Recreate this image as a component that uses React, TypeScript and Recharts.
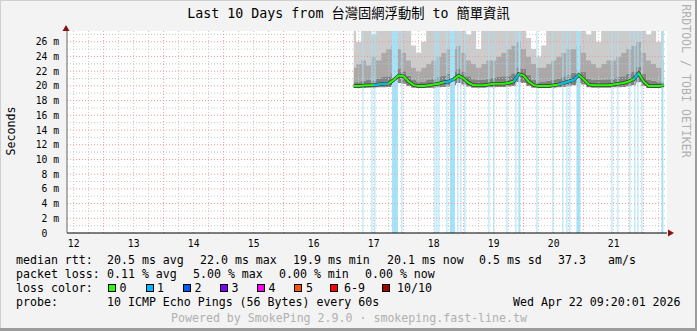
import React from 'react';
import {
  ComposedChart,
  Area,
  Line,
  XAxis,
  YAxis,
  ReferenceLine,
  ReferenceArea,
  CartesianGrid,
} from 'recharts';

// time in hours since Apr 12 00:00; window is Apr 12 09:20 .. Apr 22 09:20
const X0 = 9.3333;
const X1 = 249.3333;
const YMAX = 27.46;

const times = [
  124, 126, 128, 130, 132, 134, 136, 138, 140, 142, 144, 146, 148, 150, 152, 154,
  156, 158, 160, 162, 164, 166, 168, 170, 172, 174, 176, 178, 180, 182, 184, 186,
  188, 190, 192, 194, 196, 198, 200, 202, 204, 206, 208, 210, 212, 214, 216, 218,
  220, 222, 224, 226, 228, 230, 232, 234, 236, 238, 240, 242, 244, 246, 248,
];

// median rtt in ms
const median = [
  20.0, 20.0, 20.05, 20.1, 20.1, 20.2, 20.3, 20.3, 20.8, 21.4, 21.3, 20.6, 20.1, 20.0, 20.0, 20.1,
  20.2, 20.3, 20.5, 20.6, 20.9, 21.4, 21.0, 20.4, 20.1, 20.1, 20.1, 20.2, 20.3, 20.3, 20.3, 20.4,
  20.6, 21.6, 21.4, 20.6, 20.1, 20.0, 20.0, 20.0, 20.1, 20.2, 20.4, 20.6, 20.8, 21.5, 20.9, 20.2,
  20.1, 20.1, 20.1, 20.1, 20.2, 20.3, 20.4, 20.6, 20.9, 21.7, 20.6, 20.0, 20.0, 20.0, 20.1,
];

// lost pings per sample (median line colour)
const medianLoss = [
  0, 0, 0, 0, 0, 1, 1, 1, 0, 0, 0, 0, 0, 0, 0, 0,
  0, 0, 0, 1, 1, 0, 0, 0, 0, 0, 0, 0, 0, 0, 0, 0,
  0, 1, 0, 0, 0, 0, 0, 0, 0, 0, 1, 1, 0, 1, 0, 0,
  0, 0, 0, 0, 0, 0, 0, 0, 0, 1, 0, 0, 0, 0, 0,
];

// smoke levels (ms)
const smokeMin = [
  19.7, 19.7, 19.7, 19.75, 19.75, 19.8, 19.8, 19.85, 20.0, 20.4, 20.3, 20.0, 19.75, 19.7, 19.7, 19.7,
  19.75, 19.8, 19.85, 19.9, 20.1, 20.4, 20.2, 19.9, 19.75, 19.75, 19.75, 19.8, 19.8, 19.85, 19.85, 19.9,
  20.0, 20.5, 20.4, 20.0, 19.75, 19.7, 19.7, 19.7, 19.75, 19.8, 19.85, 19.95, 20.1, 20.4, 20.2, 19.8,
  19.75, 19.75, 19.75, 19.75, 19.8, 19.8, 19.85, 19.95, 20.1, 20.5, 20.0, 19.7, 19.7, 19.7, 19.7,
];
const smokeP60 = [
  20.5, 20.6, 20.7, 20.8, 20.7, 21.0, 21.2, 21.3, 21.8, 22.3, 22.0, 21.4, 20.8, 20.6, 20.6, 20.8,
  21.0, 21.2, 21.4, 21.6, 21.9, 22.3, 22.0, 21.3, 20.9, 20.8, 20.8, 21.0, 21.1, 21.2, 21.3, 21.4,
  21.7, 22.5, 22.3, 21.5, 20.8, 20.6, 20.6, 20.7, 20.8, 21.0, 21.2, 21.5, 21.8, 22.4, 21.9, 21.0,
  20.8, 20.8, 20.8, 20.9, 21.0, 21.2, 21.3, 21.6, 21.9, 22.6, 21.6, 20.8, 20.7, 20.6, 20.7,
];
const smokeP80 = [
  22.5, 23.0, 23.5, 22.8, 24.0, 23.5, 24.5, 25.0, 25.5, 25.0, 24.5, 23.5, 22.5, 22.0, 22.5, 23.0,
  23.5, 24.0, 24.5, 25.0, 25.0, 25.5, 24.5, 23.5, 23.0, 22.5, 23.0, 23.5, 23.5, 24.0, 24.5, 25.0,
  25.5, 26.0, 25.0, 24.0, 23.0, 22.5, 22.5, 23.0, 23.5, 24.0, 24.5, 25.0, 25.0, 25.5, 24.5, 23.5,
  23.0, 22.5, 23.0, 23.5, 23.5, 24.0, 24.5, 25.0, 25.5, 26.0, 24.5, 23.5, 23.0, 22.5, 23.5,
];
const smokeMax = [
  28, 26, 28, 28, 27, 28, 28, 28, 28, 28, 28, 28, 25.5, 24.5, 26, 28,
  28, 28, 28, 28, 28, 28, 28, 27, 28, 25, 28, 28, 28, 28, 28, 28,
  28, 28, 28, 26.5, 25, 24, 25.5, 28, 28, 28, 28, 28, 28, 28, 28, 27,
  28, 26, 28, 28, 28, 28, 28, 28, 28, 28, 28, 27, 28, 26, 28,
];

// samples with packet loss (start, end hours)
const lossStripes: [number, number][] = [
  [127.5, 127.9], [131.1, 131.5], [132.3, 132.7], [139.3, 141.7], [143.1, 143.5],
  [156.3, 156.7], [157.1, 157.5], [157.9, 158.3], [161.1, 161.5], [162.5, 164.5],
  [165.5, 165.9], [166.7, 167.1], [168.3, 168.7], [177.9, 178.3], [179.9, 180.3],
  [185.1, 185.5], [188.7, 189.1], [189.9, 190.7], [197.1, 197.5], [203.5, 203.9],
  [207.5, 207.9], [209.1, 209.5], [210.3, 210.7], [213.1, 214.7], [227.1, 227.5],
  [229.5, 229.9], [234.3, 234.7], [236.3, 236.7], [237.5, 237.9], [239.1, 239.5],
  [247.1, 247.9],
];

const xTickHours = [12, 36, 60, 84, 108, 132, 156, 180, 204, 228];
const xTickLabels = ['12', '13', '14', '15', '16', '17', '18', '19', '20', '21'];
const yTicks = [0, 2, 4, 6, 8, 10, 12, 14, 16, 18, 20, 22, 24, 26];
const yMinorGrid = [1, 3, 5, 7, 9, 11, 13, 15, 17, 19, 21, 23, 25, 27];
const xMajorGrid = [24, 48, 72, 96, 120, 144, 168, 192, 216, 240];
const xMinorGrid = [
  12, 18, 30, 36, 42, 54, 60, 66, 78, 84, 90, 102, 108, 114, 126, 132, 138, 150, 156,
  162, 174, 180, 186, 198, 204, 210, 222, 228, 234, 246,
];

const lossLegend = [
  { label: '0', color: '#26ff00' },
  { label: '1', color: '#00b8ff' },
  { label: '2', color: '#0059ff' },
  { label: '3', color: '#7e00ff' },
  { label: '4', color: '#ff00ff' },
  { label: '5', color: '#ff5500' },
  { label: '6-9', color: '#ff0000' },
  { label: '10/10', color: '#a10000' },
];

const rows = times.map((t, i) => ({
  t,
  median: median[i],
  blue: medianLoss[i] || medianLoss[i + 1] ? median[i] : null,
  lower: [smokeMin[i], smokeP60[i]],
  mid: [smokeP60[i], smokeP80[i]],
  upper: [smokeP80[i], smokeMax[i]],
}));

const FONT = "'DejaVu Sans Mono', 'Noto Sans CJK TC', monospace";

const XTick = (props: any) => {
  const { x, y, payload } = props;
  const idx = xTickHours.indexOf(payload.value);
  return (
    <text x={x} y={y} dy={12} textAnchor="middle" fontFamily={FONT} fontSize={9.7} fill="#000">
      {idx >= 0 ? xTickLabels[idx] : ''}
    </text>
  );
};

const YTick = (props: any) => {
  const { x, y, payload } = props;
  const v = payload.value;
  return (
    <text
      x={v === 0 ? x - 11.7 : x}
      y={y}
      dy={3.5}
      textAnchor="end"
      fontFamily={FONT}
      fontSize={9.7}
      fill="#000"
    >
      {v === 0 ? '0' : `${v} m`}
    </text>
  );
};

const txt = (left: number, cy: number, s: string, color = '#000', size = 11.6) => (
  <div
    style={{
      position: 'absolute',
      left,
      top: cy - 7,
      height: 14,
      lineHeight: '14px',
      fontFamily: FONT,
      fontSize: size,
      color,
      whiteSpace: 'pre',
    }}
  >
    {s}
  </div>
);

const boxXs = [108, 145.5, 182.5, 219.5, 256.5, 293.5, 330, 382];
const labelXs = [119.5, 157, 194.5, 231.5, 268.5, 306, 344, 397];

export default function App() {
  return (
    <div
      style={{
        position: 'absolute',
        left: 0,
        top: 0,
        width: 697,
        height: 331,
        background: '#f3f3f3',
        overflow: 'hidden',
      }}
    >
      <div style={{ position: 'absolute', left: 0, top: 0 }}>
        <ComposedChart
          width={697}
          height={331}
          data={rows}
          margin={{ top: 31, right: 30, bottom: 78, left: 7 }}
        >
          <CartesianGrid fill="#ffffff" horizontal={false} vertical={false} stroke="none" />
          <XAxis
            dataKey="t"
            type="number"
            domain={[X0, X1]}
            allowDataOverflow
            ticks={xTickHours}
            interval={0}
            tick={<XTick />}
            tickSize={0}
            tickLine={false}
            height={20}
            axisLine={{ stroke: '#000', strokeWidth: 1 }}
          />
          <YAxis
            type="number"
            domain={[0, YMAX]}
            allowDataOverflow
            ticks={yTicks}
            interval={0}
            tick={<YTick />}
            tickSize={0}
            tickMargin={8}
            tickLine={false}
            width={60}
            axisLine={{ stroke: '#666', strokeWidth: 1 }}
          />
          <Area dataKey="upper" type="step" fill="#cccccc" fillOpacity={1} stroke="none" isAnimationActive={false} />
          <Area dataKey="mid" type="step" fill="#a9a9a9" fillOpacity={1} stroke="none" isAnimationActive={false} />
          <Area dataKey="lower" type="step" fill="#828282" fillOpacity={1} stroke="none" isAnimationActive={false} />
          {lossStripes.map(([s, e], i) => (
            <ReferenceArea key={`ls${i}`} x1={s} x2={e} fill="#a4e2fa" fillOpacity={1} stroke="none" />
          ))}
          {yMinorGrid.map((v) => (
            <ReferenceLine key={`ym${v}`} y={v} stroke="#c8c8c8" strokeDasharray="1 2" />
          ))}
          {xMinorGrid.map((v) => (
            <ReferenceLine key={`xm${v}`} x={v} stroke="#c8c8c8" strokeDasharray="1 2" />
          ))}
          {yTicks.filter((v) => v > 0).map((v) => (
            <ReferenceLine key={`yM${v}`} y={v} stroke="#f09a9a" strokeDasharray="1 2" />
          ))}
          {xMajorGrid.map((v) => (
            <ReferenceLine key={`xM${v}`} x={v} stroke="#f09a9a" strokeDasharray="1 2" />
          ))}
          <Line dataKey="median" stroke="#3a3a3a" strokeWidth={3.5} dot={false} isAnimationActive={false} />
          <Line dataKey="median" stroke="#26ff00" strokeWidth={2} dot={false} isAnimationActive={false} />
          <Line dataKey="blue" stroke="#00b8ff" strokeWidth={2} dot={false} connectNulls={false} isAnimationActive={false} />
        </ComposedChart>
      </div>

      <svg width={697} height={331} style={{ position: 'absolute', left: 0, top: 0, pointerEvents: 'none' }}>
        <polygon points="66,25 62.5,31 69.5,31" fill="#8b1010" />
        <polygon points="674,233 668,229.5 668,236.5" fill="#8b1010" />
      </svg>

      {/* borders */}
      <div style={{ position: 'absolute', left: 0, top: 0, width: 697, height: 1, background: '#cfcfcf' }} />
      <div style={{ position: 'absolute', left: 0, top: 0, width: 1, height: 331, background: '#cfcfcf' }} />
      <div style={{ position: 'absolute', left: 695, top: 0, width: 2, height: 331, background: '#9c9c9c' }} />
      <div style={{ position: 'absolute', left: 0, top: 328, width: 697, height: 3, background: '#9c9c9c' }} />

      {/* title */}
      <div
        style={{
          position: 'absolute',
          left: 0,
          top: 6,
          width: 697,
          textAlign: 'center',
          lineHeight: '16px',
          fontFamily: FONT,
          fontSize: 13.3,
          color: '#000',
          whiteSpace: 'pre',
        }}
      >
        Last 10 Days from 台灣固網浮動制 to 簡單資訊
      </div>

      {/* y label */}
      <div
        style={{
          position: 'absolute',
          left: 11,
          top: 131,
          transform: 'translate(-50%, -50%) rotate(-90deg)',
          fontFamily: FONT,
          fontSize: 11.6,
          color: '#000',
          whiteSpace: 'nowrap',
        }}
      >
        Seconds
      </div>

      {/* watermark */}
      <div
        style={{
          position: 'absolute',
          left: 686,
          top: 81,
          transform: 'translate(-50%, -50%) rotate(90deg)',
          fontFamily: FONT,
          fontSize: 11.6,
          color: '#b0b0b0',
          whiteSpace: 'pre',
        }}
      >
        RRDTOOL / TOBI OETIKER
      </div>

      {/* legend lines */}
      {txt(16, 259.5, 'median rtt:')}
      {txt(107, 259.5, '20.5 ms avg')}
      {txt(200, 259.5, '22.0 ms max')}
      {txt(293, 259.5, '19.9 ms min')}
      {txt(387, 259.5, '20.1 ms now')}
      {txt(479, 259.5, '0.5 ms sd')}
      {txt(558, 259.5, '37.3')}
      {txt(608, 259.5, 'am/s')}

      {txt(16, 273.5, 'packet loss:')}
      {txt(107, 273.5, '0.11 % avg')}
      {txt(193, 273.5, '5.00 % max')}
      {txt(279, 273.5, '0.00 % min')}
      {txt(365, 273.5, '0.00 % now')}

      {txt(16, 287.5, 'loss color:')}
      {lossLegend.map((l, i) => (
        <React.Fragment key={l.label}>
          <div
            style={{
              position: 'absolute',
              left: boxXs[i],
              top: 283.5,
              width: 8,
              height: 8,
              boxSizing: 'border-box',
              border: '1px solid #000',
              background: l.color,
            }}
          />
          {txt(labelXs[i], 287.5, l.label)}
        </React.Fragment>
      ))}

      {txt(16, 301.5, 'probe:')}
      {txt(107, 301.5, '10 ICMP Echo Pings (56 Bytes) every 60s')}
      {txt(513, 301.5, 'Wed Apr 22 09:20:01 2026')}

      {txt(171, 318, 'Powered by SmokePing 2.9.0 · smokeping.fast-line.tw', '#b0b0b0')}
    </div>
  );
}
